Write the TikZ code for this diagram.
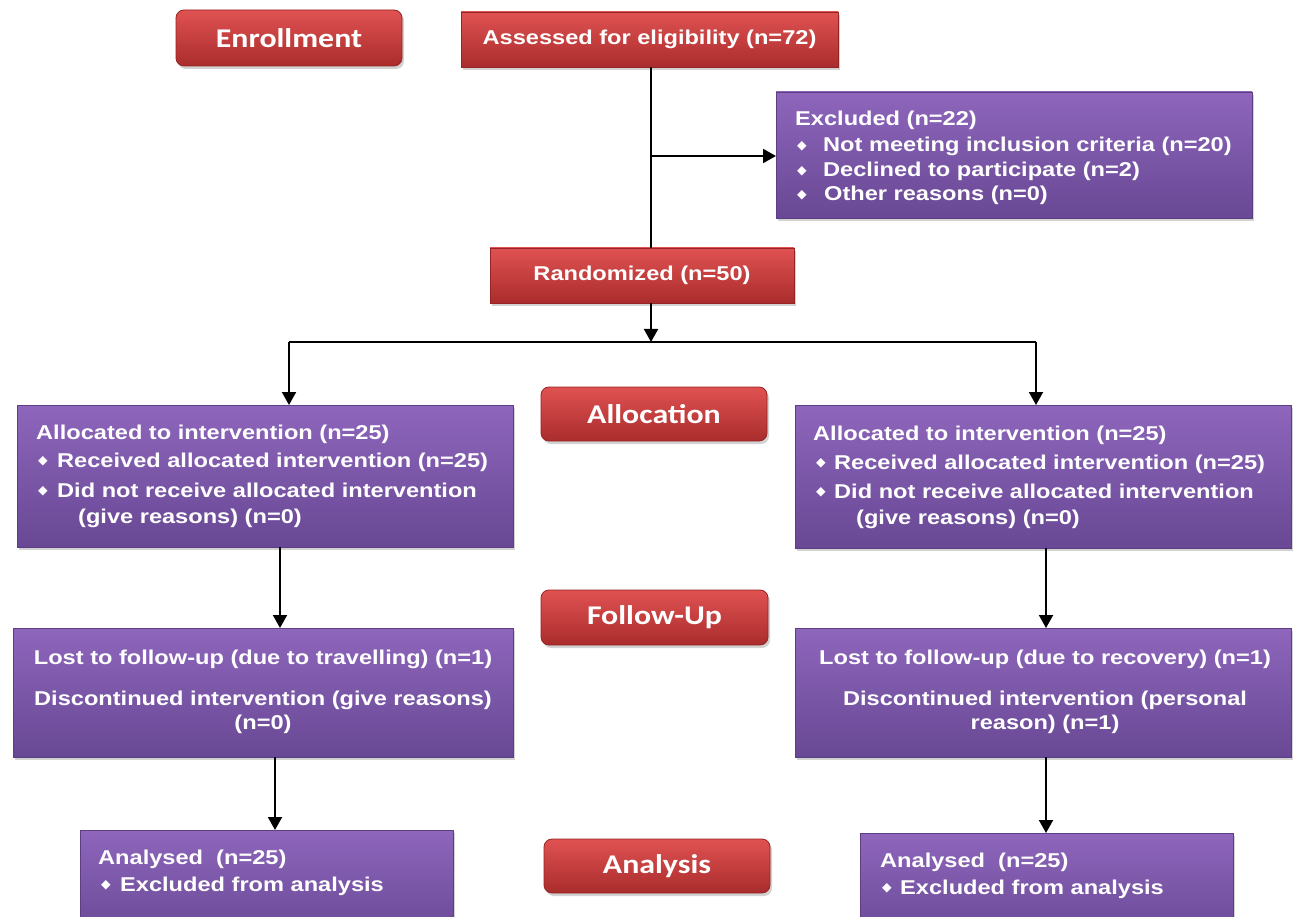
\documentclass[tikz,border=0pt]{standalone}
\usepackage{fontspec}
\usetikzlibrary{arrows.meta,shadows}
\newfontfamily\boxfont{Liberation Sans}[FakeStretch=1.18]
\newfontfamily\phasefont{Carlito}[FakeStretch=1.18]
\newfontfamily\symfont{DejaVu Sans}
\definecolor{redtop}{RGB}{224,82,82}
\definecolor{redbot}{RGB}{170,44,44}
\definecolor{redline}{RGB}{150,36,36}
\definecolor{purtop}{RGB}{142,102,188}
\definecolor{purbot}{RGB}{104,72,148}
\definecolor{purline}{RGB}{92,62,130}
\tikzset{
  boxbase/.style={rectangle, anchor=north west, inner sep=0pt, outer sep=0pt,
    drop shadow={opacity=0.35, shadow xshift=2pt, shadow yshift=-3pt}},
  redbox/.style={boxbase, top color=redtop, bottom color=redbot, draw=redline, line width=0.8pt,
    text=white, font=\boxfont\bfseries\fontsize{20}{24}\selectfont},
  phasebox/.style={redbox, rounded corners=8pt, font=\phasefont\bfseries\fontsize{27}{30}\selectfont},
  purbox/.style={boxbase, top color=purtop, bottom color=purbot, draw=purline, line width=0.8pt},
  txt/.style={anchor=base west, inner sep=0pt, text=white, font=\boxfont\bfseries\fontsize{20}{24}\selectfont},
  ctxt/.style={txt, anchor=base, align=center},
  bul/.style={anchor=center, inner sep=0pt, text=white, font=\symfont\fontsize{12.5}{14}\selectfont},
  arr/.style={-{Triangle[width=14pt,length=13pt]}, line width=2pt, black},
  ln/.style={line width=2pt, black}
}
\begin{document}
\begin{tikzpicture}[x=1pt,y=1pt]
\useasboundingbox (0,0) rectangle (1296,-917);
\clip (0,0) rectangle (1296,-917);
\fill[white] (0,0) rectangle (1296,-917);
% boxes
\node[phasebox, minimum width=226pt, minimum height=56pt] (enr) at (176,-10) {Enrollment};
\node[redbox, minimum width=377pt, minimum height=55pt] (asse) at (461,-12) {Assessed for eligibility (n=72)};
\node[purbox, minimum width=476pt, minimum height=126pt] (excl) at (776,-92) {};
\node[redbox, minimum width=304pt, minimum height=55pt] (rand) at (490,-248) {Randomized (n=50)};
\node[purbox, minimum width=496pt, minimum height=142pt] (allocL) at (17,-405) {};
\node[phasebox, minimum width=226pt, minimum height=54pt] (alloc) at (541,-387) {Allocation};
\node[purbox, minimum width=496pt, minimum height=143pt] (allocR) at (795,-405) {};
\node[phasebox, minimum width=227pt, minimum height=55pt] (fu) at (541,-590) {Follow-Up};
\node[purbox, minimum width=500pt, minimum height=129pt] (lostL) at (13,-628) {};
\node[purbox, minimum width=496pt, minimum height=129pt] (lostR) at (795,-628) {};
\node[phasebox, minimum width=226pt, minimum height=54pt] (ana) at (544,-839) {Analysis};
\node[purbox, minimum width=373pt, minimum height=110pt] (anaL) at (80,-830) {};
\node[purbox, minimum width=373pt, minimum height=110pt] (anaR) at (860,-833) {};
% texts: excluded
\node[txt] (ex0) at (795,-126) {Excluded (n=22)};
\node[bul] (exb1) at (802,-146) {◆};
\node[txt] (ex1) at (823,-152) {Not meeting inclusion criteria (n=20)};
\node[bul] (exb2) at (802,-171) {◆};
\node[txt] (ex2) at (823,-177) {Declined to participate (n=2)};
\node[bul] (exb3) at (802,-195) {◆};
\node[txt] (ex3) at (824,-201) {Other reasons (n=0)};
% allocated left
\node[txt] (al0) at (36,-439) {Allocated to intervention (n=25)};
\node[bul] (alb1) at (43,-461) {◆};
\node[txt] (al1) at (57,-467) {Received allocated intervention (n=25)};
\node[bul] (alb2) at (43,-491) {◆};
\node[txt] (al2) at (57,-497) {Did not receive allocated intervention};
\node[txt] (al3) at (78,-523) {(give reasons) (n=0)};
% allocated right
\node[txt] (ar0) at (813,-440) {Allocated to intervention (n=25)};
\node[bul] (arb1) at (821,-463) {◆};
\node[txt] (ar1) at (834,-469) {Received allocated intervention (n=25)};
\node[bul] (arb2) at (821,-492) {◆};
\node[txt] (ar2) at (834,-498) {Did not receive allocated intervention};
\node[txt] (ar3) at (856,-524) {(give reasons) (n=0)};
% lost
\node[ctxt] (ll1) at (263,-664) {Lost to follow-up (due to travelling) (n=1)};
\node[ctxt] (ll2) at (263,-705) {Discontinued intervention (give reasons)};
\node[ctxt] (ll3) at (263,-729) {(n=0)};
\node[ctxt] (lr1) at (1045,-664) {Lost to follow-up (due to recovery) (n=1)};
\node[ctxt] (lr2) at (1045,-705) {Discontinued intervention (personal};
\node[ctxt] (lr3) at (1045,-729) {reason) (n=1)};
% analysed
\node[txt] (nl0) at (98,-864) {Analysed\ \ (n=25)};
\node[bul] (nlb) at (106,-885) {◆};
\node[txt] (nl1) at (120,-891) {Excluded from analysis};
\node[txt] (nr0) at (880,-867) {Analysed\ \ (n=25)};
\node[bul] (nrb) at (887,-888) {◆};
\node[txt] (nr1) at (900,-894) {Excluded from analysis};
% connectors
\coordinate (j) at (651,0);
\coordinate (e) at (651,-156);
\coordinate (jr) at (651,-342);
\coordinate (hl) at (289,-342);
\coordinate (hr) at (1036,-342);
\coordinate (c1) at (280,0);
\coordinate (c2) at (1046,0);
\coordinate (c3) at (275,0);
\draw[ln] (asse.south -| j) -- (rand.north -| j);
\draw[arr] (e) -- (e -| excl.west);
\draw[arr] (rand.south -| j) -- (jr);
\draw[ln] (hl) -- (hr);
\draw[arr] (hl) -- (hl |- allocL.north);
\draw[arr] (hr) -- (hr |- allocR.north);
\draw[arr] (allocL.south -| c1) -- (lostL.north -| c1);
\draw[arr] (allocR.south -| c2) -- (lostR.north -| c2);
\draw[arr] (lostL.south -| c3) -- (anaL.north -| c3);
\draw[arr] (lostR.south -| c2) -- (anaR.north -| c2);
\end{tikzpicture}
\end{document}
